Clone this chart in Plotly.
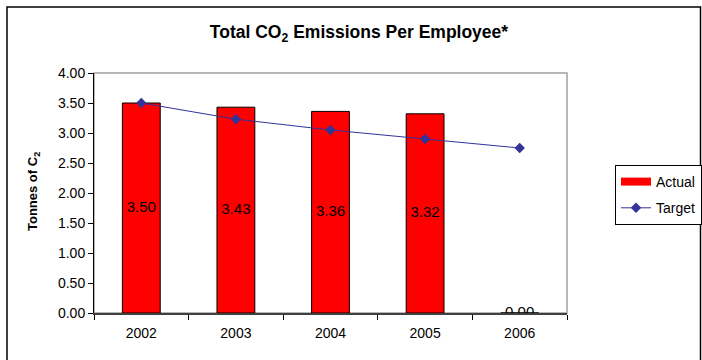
import plotly.graph_objects as go

years = ["2002", "2003", "2004", "2005", "2006"]
actual = [3.50, 3.43, 3.36, 3.32, 0.00]
target = [3.50, 3.23, 3.05, 2.90, 2.75]
actual_labels = [f"{v:.2f}" for v in actual]
label_pos = [v / 2 for v in actual]

W, H = 702, 360
L, R, T, B = 94, 135, 73, 47
pw, ph = W - L - R, H - T - B

def px_x(x):
    return (x - L) / pw

def px_y(y):
    return (H - B - y) / ph

FONT = "Liberation Sans, Arial, sans-serif"

fig = go.Figure()
fig.add_trace(go.Bar(
    x=years, y=actual, name="Actual", width=0.4, showlegend=False,
    marker=dict(color="#FF0000", line=dict(color="black", width=1)),
))
# legend entry for the bars (wide red swatch as in the reference)
fig.add_trace(go.Scatter(
    x=[None], y=[None], name="Actual", mode="lines", legendgroup="a",
    line=dict(color="#FF0000", width=8), hoverinfo="skip",
))
fig.add_trace(go.Scatter(
    x=years, y=target, name="Target", mode="lines+markers", legendgroup="b",
    line=dict(color="#333399", width=1),
    marker=dict(symbol="diamond", size=8, color="#333399"),
))
fig.add_trace(go.Scatter(
    x=years, y=label_pos, text=actual_labels, mode="text",
    textfont=dict(family=FONT, size=15, color="black"),
    showlegend=False, hoverinfo="skip",
))

fig.update_layout(
    width=W, height=H,
    margin=dict(l=L, r=R, t=T, b=B, autoexpand=False),
    paper_bgcolor="white", plot_bgcolor="white",
    font=dict(family=FONT, color="black"),
    title=dict(text="<b>Total CO<sub>2</sub> Emissions Per Employee*</b>",
               x=359 / W, xanchor="center", y=1 - 32 / H, yanchor="middle",
               font=dict(size=17.5, family=FONT)),
    showlegend=True,
    legend=dict(x=px_x(615), xanchor="left", y=px_y(165), yanchor="top",
                bordercolor="black", borderwidth=1, bgcolor="white",
                font=dict(size=14, family=FONT), traceorder="grouped",
                tracegroupgap=5, itemwidth=30),
    bargap=0.6,
    shapes=[
        dict(type="rect", xref="paper", yref="paper", x0=0, x1=1, y0=0, y1=1,
             line=dict(color="#A0A0A0", width=1.5), layer="below"),
        dict(type="rect", xref="paper", yref="paper",
             x0=px_x(7), x1=px_x(700.5), y0=px_y(7), y1=px_y(380),
             line=dict(color="black", width=1.5)),
    ],
    annotations=[
        dict(text="<b>Tonnes of C<sub>2</sub></b>", xref="paper", yref="paper",
             x=px_x(33), y=px_y(192), textangle=-90, showarrow=False,
             xanchor="center", yanchor="middle", font=dict(size=13, family=FONT)),
    ],
)
fig.update_xaxes(
    type="category", showgrid=False, showline=True, linecolor="#404040", linewidth=1.5,
    ticks="outside", tickson="boundaries", ticklen=5, tickcolor="black",
    ticklabelstandoff=6,
    tickfont=dict(size=14, family=FONT), range=[-0.5, 4.5],
)
fig.update_yaxes(
    range=[0, 4], dtick=0.5, tickformat=".2f", showgrid=False, zeroline=False,
    showline=True, linecolor="black", linewidth=1,
    ticks="outside", ticklen=5, tickcolor="black",
    tickfont=dict(size=14, family=FONT),
)

fig.write_html("out.html")
